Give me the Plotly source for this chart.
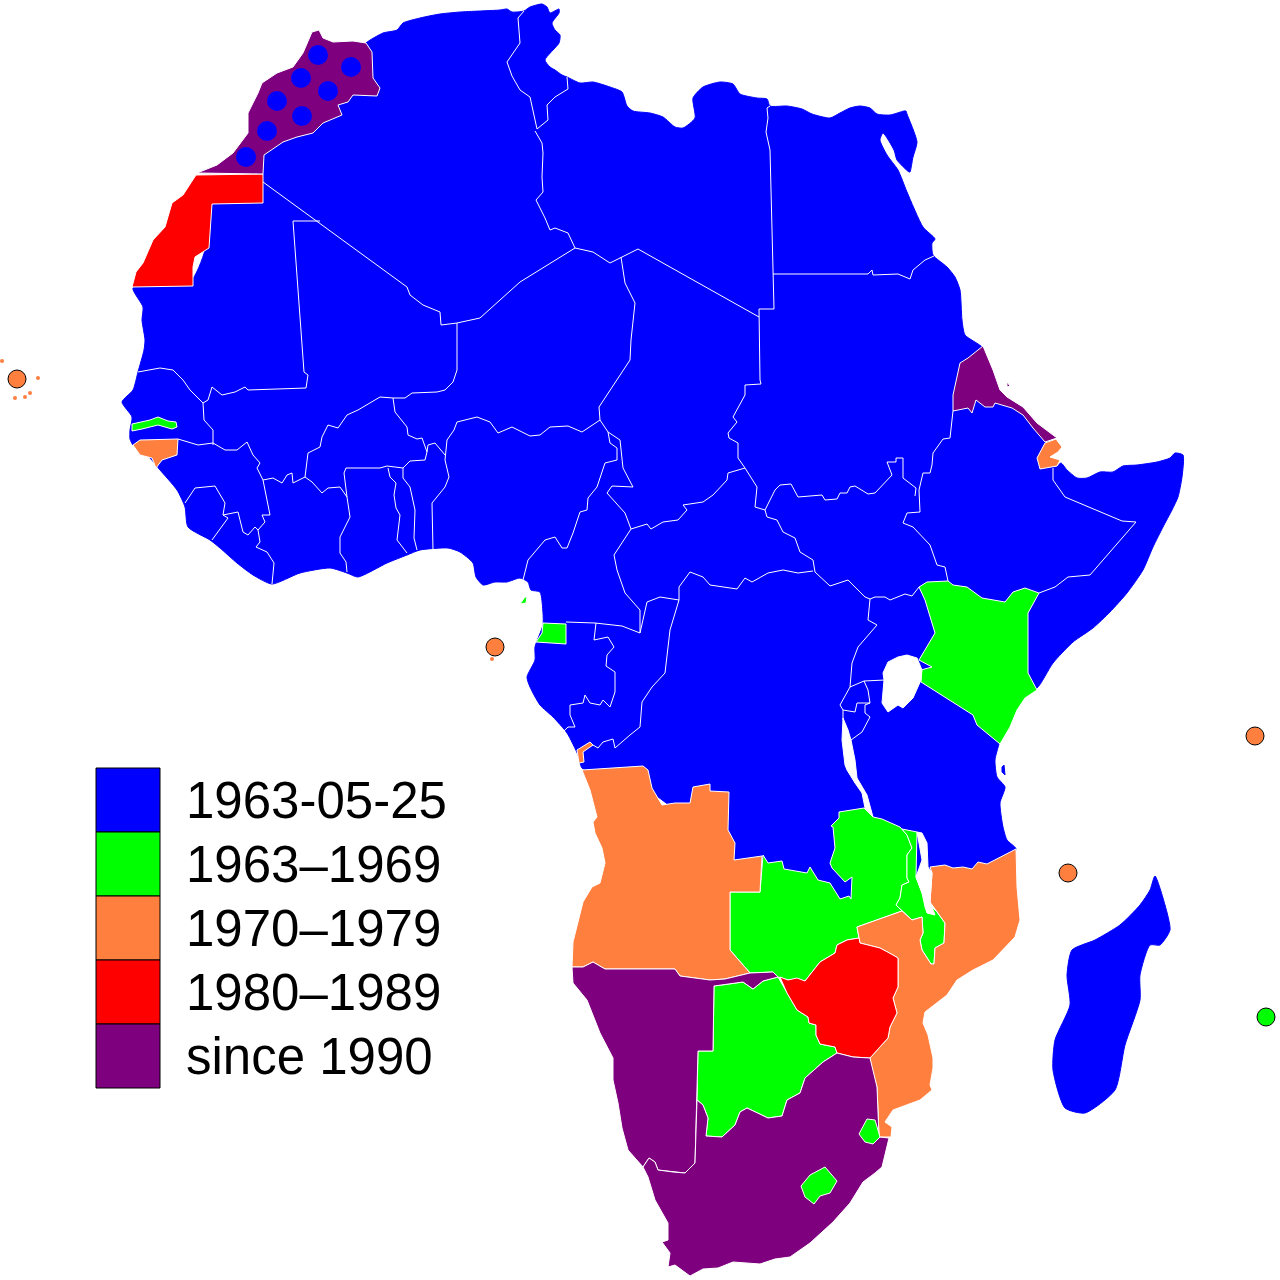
import plotly.graph_objects as go

# colours of the membership periods
BLUE = "#0000ff"
GREEN = "#00ff00"
ORANGE = "#ff7f3f"
RED = "#ff0000"
PURPLE = "#7f007f"

legend_labels = ["1963-05-25", "1963–1969", "1970–1979", "1980–1989", "since 1990"]
legend_colours = [BLUE, GREEN, ORANGE, RED, PURPLE]

# outlines, in picture pixels
mainland = [(366,43),(383,33),(397,30),(403,23),(420,18),(440,14),(460,12),(500,10),(507,9),(512,12),(524,11),(530,7),(542,4),(547,7),(550,13),(559,9),(559,13),(552,23),(555,30),(560,35),(559,43),(545,60),(550,67),(555,70),(562,75),(567,77),(580,83),(593,82),(610,87),(622,92),(627,106),(633,111),(650,113),(663,117),(675,127),(683,128),(695,118),(693,98),(703,87),(720,82),(733,84),(740,94),(757,98),(767,99),(770,106),(787,106),(802,109),(812,114),(830,118),(840,113),(850,108),(860,106),(870,108),(877,114),(890,115),(904,111),(906,111),(907,114),(917,142),(913,157),(910,172),(909,172),(897,160),(894,150),(883,133),(880,140),(887,155),(898,170),(907,192),(923,227),(935,239),(932,243),(933,255),(947,267),(955,277),(960,290),(962,320),(965,335),(983,348),(988,370),(996,392),(1005,400),(1020,410),(1034,424),(1050,440),(1045,450),(1045,464),(1056,467),(1061,463),(1067,470),(1077,478),(1087,478),(1100,472),(1113,472),(1123,466),(1137,465),(1157,462),(1170,458),(1175,453),(1183,455),(1182,477),(1178,497),(1172,510),(1163,527),(1153,547),(1143,570),(1127,593),(1110,612),(1093,628),(1073,642),(1053,663),(1037,688),(1025,690),(1015,705),(1005,722),(999,744),(995,760),(997,777),(1005,787),(1000,803),(1003,827),(1007,840),(1016,849),(1000,870),(935,880),(900,870),(860,905),(790,895),(755,880),(700,830),(640,785),(600,775),(582,768),(578,755),(567,733),(553,717),(540,705),(530,687),(527,677),(535,660),(535,647),(543,625),(543,613),(540,592),(531,590),(528,582),(520,578),(507,582),(495,582),(483,585),(476,577),(473,563),(460,552),(448,548),(420,550),(407,555),(387,563),(358,577),(347,573),(330,568),(300,573),(272,584),(253,575),(237,563),(220,548),(210,540),(188,527),(185,507),(177,490),(160,470),(150,458),(133,445),(130,439),(130,430),(132,417),(122,402),(133,390),(138,372),(144,350),(145,340),(142,320),(143,307),(133,288),(190,282),(205,250),(208,205),(258,198),(258,176),(255,155),(295,125),(335,100),(362,85),(362,50)]
madagascar = [(1155,876),(1165,905),(1170,930),(1160,945),(1150,945),(1140,975),(1140,1000),(1125,1045),(1115,1090),(1085,1113),(1065,1108),(1053,1070),(1055,1040),(1070,1005),(1067,975),(1072,950),(1095,940),(1120,925),(1140,905),(1150,890)]
zanzibar = [(1004,765),(1005,775),(1002,772),(1002,767)]
morocco = [(197,173),(217,165),(233,153),(248,133),(248,113),(258,93),(262,83),(277,73),(293,67),(303,53),(312,32),(319,30),(323,38),(333,42),(353,41),(366,43),(372,52),(373,78),(380,88),(377,96),(353,95),(348,102),(338,105),(342,115),(323,123),(313,133),(297,137),(283,142),(264,155),(263,174)]
western_sahara = [(132,287),(136,272),(143,263),(153,240),(165,227),(172,203),(183,195),(196,175),(263,174),(263,203),(212,204),(209,248),(195,257),(193,267),(193,286)]
gambia = [(132,424),(150,420),(158,417),(168,421),(176,422),(177,427),(172,429),(158,425),(142,429),(132,431)]
guinea_bissau = [(133,445),(140,440),(178,439),(177,455),(162,460),(156,468),(152,458),(140,455)]
eq_guinea = [(536,642),(566,644),(566,624),(543,623),(542,633)]
bioko = [(520,604),(525,597),(527,597),(526,603)]
eritrea = [(953,411),(968,408),(972,413),(976,400),(985,407),(993,407),(995,403),(1012,408),(1023,415),(1033,428),(1045,442),(1057,438),(1037,423),(1023,407),(1007,397),(1000,390),(993,370),(983,346),(968,358),(960,363),(953,395)]
dahlak = [(1007,382),(1010,386),(1007,387)]
djibouti = [(1045,443),(1056,439),(1062,447),(1058,452),(1050,457),(1060,460),(1057,466),(1040,469),(1037,458)]
kenya = [(919,587),(927,582),(948,581),(953,585),(967,587),(982,598),(1005,602),(1013,592),(1025,588),(1039,593),(1028,613),(1028,673),(1037,690),(1025,698),(1017,710),(1010,727),(1000,744),(977,725),(973,715),(921,682),(921,670),(932,667),(919,660),(935,633),(925,600)]
cabinda = [(577,750),(590,742),(593,745),(583,752),(584,762),(579,763)]
angola = [(582,770),(643,766),(648,770),(652,788),(662,805),(675,803),(690,803),(693,787),(710,784),(710,791),(729,792),(728,830),(735,843),(734,860),(762,856),(760,892),(730,892),(730,950),(750,973),(725,979),(710,980),(680,976),(675,969),(605,969),(593,962),(583,967),(572,967),(573,942),(583,902),(592,887),(600,883),(605,863),(602,848),(595,833),(593,822),(597,817),(590,790)]
zambia = [(839,812),(864,808),(873,817),(882,819),(900,827),(907,835),(912,848),(907,855),(907,878),(909,882),(902,885),(900,898),(896,905),(902,911),(857,927),(859,938),(847,940),(837,945),(835,953),(820,962),(805,981),(797,980),(788,980),(778,977),(773,972),(750,973),(730,950),(730,892),(760,892),(763,855),(768,863),(782,861),(784,869),(807,873),(810,867),(818,880),(830,883),(840,899),(849,896),(851,899),(852,877),(845,882),(832,868),(830,863),(835,848),(833,827),(831,826),(839,818)]
malawi = [(907,835),(902,829),(917,832),(916,877),(922,893),(928,903),(937,912),(945,923),(944,943),(935,948),(934,964),(931,964),(922,950),(920,940),(923,933),(922,917),(912,920),(902,911),(896,905),(900,898),(902,885),(909,882),(907,878),(907,855),(912,848)]
mozambique = [(930,867),(945,865),(953,868),(963,867),(972,869),(978,862),(987,864),(1016,849),(1017,887),(1020,920),(1015,937),(993,960),(973,970),(957,980),(947,995),(925,1012),(923,1023),(928,1035),(933,1058),(933,1068),(930,1085),(932,1090),(920,1100),(893,1110),(885,1122),(892,1127),(891,1137),(879,1137),(878,1110),(877,1087),(872,1070),(870,1058),(888,1038),(890,1027),(897,1013),(893,998),(898,987),(898,958),(893,955),(880,948),(860,943),(857,927),(902,911),(912,920),(922,917),(923,933),(920,940),(922,950),(931,964),(934,964),(935,948),(944,943),(945,923),(937,912),(930,902),(932,873)]
zimbabwe = [(847,940),(859,938),(860,943),(880,948),(893,955),(898,958),(898,987),(893,998),(897,1013),(890,1027),(888,1038),(870,1058),(853,1057),(837,1053),(835,1047),(820,1044),(816,1035),(816,1025),(809,1023),(808,1017),(797,1010),(787,993),(780,977),(788,980),(797,978),(805,981),(820,962),(835,953),(837,945)]
botswana = [(714,986),(743,982),(753,989),(763,981),(778,977),(787,993),(797,1010),(808,1017),(809,1023),(816,1025),(816,1035),(820,1044),(835,1047),(837,1053),(823,1062),(805,1078),(800,1093),(787,1100),(782,1116),(768,1118),(747,1108),(740,1112),(735,1125),(722,1137),(706,1136),(708,1118),(703,1105),(697,1100),(698,1051),(713,1051)]
namibia = [(572,967),(583,967),(593,962),(605,969),(675,969),(680,976),(710,980),(725,979),(750,973),(773,972),(778,977),(763,981),(753,989),(743,982),(714,986),(713,1051),(698,1051),(697,1100),(695,1163),(685,1173),(673,1172),(658,1170),(655,1162),(649,1158),(643,1167),(628,1150),(622,1128),(618,1103),(613,1080),(613,1058),(600,1033),(587,1000),(573,983)]
south_africa = [(643,1167),(649,1158),(655,1162),(658,1170),(673,1172),(685,1173),(695,1163),(697,1100),(703,1105),(708,1118),(706,1136),(722,1137),(735,1125),(740,1112),(747,1108),(768,1118),(782,1116),(787,1100),(800,1093),(805,1078),(823,1062),(837,1053),(853,1057),(870,1058),(877,1087),(878,1110),(879,1137),(889,1138),(882,1167),(875,1173),(863,1182),(850,1203),(833,1222),(810,1243),(790,1257),(775,1259),(760,1264),(733,1262),(718,1268),(703,1269),(690,1276),(675,1265),(668,1267),(670,1253),(662,1242),(668,1240),(668,1223),(655,1200),(648,1177)]
lesotho = [(825,1167),(837,1181),(830,1193),(820,1196),(814,1204),(805,1197),(801,1186),(810,1175)]
swaziland = [(867,1119),(875,1120),(880,1137),(873,1144),(865,1142),(859,1134)]

lake_victoria = [(883,673),(888,662),(898,657),(907,655),(917,658),(922,670),(921,680),(913,698),(903,708),(898,705),(888,712),(882,703),(884,680)]
lake_tanganyika = [(843,718),(842,740),(845,765),(847,770),(855,783),(862,793),(865,808),(873,817),(867,795),(857,778),(855,760),(851,740),(848,730)]
lake_malawi = [(917,832),(922,833),(927,843),(928,867),(932,873),(930,902),(935,915),(927,913),(925,907),(922,893),(916,877),(922,860)]

# internal borders of the blue area
borders = [
    [(263,182),(407,287),(410,295),(423,305),(440,312),(441,325),(457,323),(480,318),(500,300),(520,282),(575,248)],
    [(575,248),(568,233),(555,228),(550,230),(545,218),(536,200),(543,192),(542,177),(543,153),(542,143),(535,131)],
    [(537,129),(548,120),(547,105),(555,97),(568,89),(567,77)],
    [(524,11),(518,18),(520,43),(507,62),(512,76),(520,90),(530,97),(537,129)],
    [(575,248),(593,252),(610,263),(638,249),(759,317)],
    [(760,380),(759,309),(774,309),(773,274),(770,150),(766,132),(768,118),(767,108),(770,106)],
    [(773,274),(868,274),(872,270),(873,275),(898,274),(910,279),(913,270),(925,260),(934,256)],
    [(621,257),(625,283),(635,303),(631,340),(630,360),(617,380),(599,407),(600,420)],
    [(293,221),(320,221)],
    [(293,221),(302,340),(304,372),(308,375),(306,388),(248,390),(245,387),(235,392),(222,395),(212,387),(208,400),(203,403)],
    [(138,372),(160,368),(173,370),(183,380),(190,390),(203,403),(204,420),(213,430),(213,445)],
    [(178,439),(198,445),(213,443),(225,450),(237,450),(247,442),(253,455),(260,463),(257,468),(263,480),(273,478),(282,483),(287,475),(292,473),(293,483),(305,477)],
    [(305,477),(308,453),(320,447),(322,437),(328,425),(338,428),(347,415),(358,410),(380,397),(393,398),(405,398),(412,393),(437,392),(445,390),(453,382),(457,370),(457,323)],
    [(393,398),(395,412),(407,427),(408,435),(417,439),(422,438),(427,452),(425,460),(410,461),(403,468),(387,466),(380,468),(346,468),(344,473),(347,497)],
    [(305,477),(312,482),(322,493),(328,488),(340,487),(347,497),(350,517),(340,537),(340,553),(346,562),(347,572)],
    [(388,468),(390,477),(396,483),(394,495),(396,508),(400,515),(397,540),(407,553)],
    [(403,468),(403,478),(410,487),(415,510),(414,538),(417,550)],
    [(433,550),(432,503),(445,487),(449,477),(445,460),(447,440),(454,430),(457,422),(477,417),(490,422),(498,433),(512,427),(530,436),(540,435),(550,427),(568,426),(582,432),(600,420)],
    [(427,452),(428,445),(435,443),(445,455)],
    [(600,420),(608,432),(610,443),(617,448),(617,460),(605,463),(597,487),(588,498),(587,510),(580,512),(573,533),(567,548),(562,548),(555,537),(545,540),(528,560),(523,580)],
    [(608,432),(620,440),(623,468),(633,487),(612,486),(607,493),(625,513),(631,529)],
    [(631,529),(647,524),(651,529),(663,522),(678,520),(687,510),(683,505),(703,502),(713,495),(727,480),(728,473),(745,468)],
    [(745,468),(738,458),(738,443),(729,438),(728,433),(737,422),(733,417),(745,395),(745,385),(761,384),(760,380)],
    [(745,468),(757,487),(755,507),(765,510),(767,517),(777,520),(783,532),(795,538),(800,552),(813,560),(815,572)],
    [(765,510),(775,490),(780,485),(791,484),(798,497),(822,495),(825,500),(837,499),(840,493),(847,493),(850,487),(855,486),(868,494),(875,493),(892,475),(887,462),(896,462),(896,458),(903,458),(903,478),(916,488),(915,496)],
    [(919,490),(923,473),(930,473),(932,465),(933,453),(943,439),(950,438),(953,411)],
    [(1053,468),(1053,480),(1065,497),(1122,521),(1136,522),(1090,575),(1068,577),(1055,587),(1039,593)],
    [(919,490),(920,512),(907,513),(903,523),(913,527),(930,545),(937,565),(945,567),(948,581)],
    [(815,572),(830,586),(848,580),(865,597),(870,599),(875,597),(885,597),(890,600),(905,594),(912,596),(919,587)],
    [(870,599),(868,620),(877,625),(858,647),(852,663),(850,687),(840,705),(843,710),(843,720)],
    [(850,687),(864,681),(885,680)],
    [(864,681),(868,690),(870,703),(857,703),(855,712),(843,710)],
    [(870,703),(865,705),(865,713),(870,717),(862,732),(851,740)],
    [(566,622),(595,623),(622,626),(640,633)],
    [(596,623),(594,640),(608,637),(614,647),(607,655),(606,666),(615,672),(615,692),(610,707),(603,700),(600,705),(590,703),(585,695),(583,703),(570,705),(570,715),(575,727),(568,727),(563,732)],
    [(640,633),(640,610),(625,593),(617,570),(614,555),(631,529)],
    [(640,633),(647,602),(660,597),(679,600),(679,587),(690,572),(703,577),(710,585),(737,589),(745,578),(752,582),(768,573),(783,570),(798,573),(813,571)],
    [(679,600),(670,630),(665,673),(652,687),(642,702),(640,727),(630,735),(615,748),(613,739),(603,742),(598,748),(593,745)],
    [(185,503),(195,488),(215,486),(225,503),(223,515),(238,512),(243,532),(248,535),(255,527),(258,530)],
    [(223,515),(228,518),(212,540)],
    [(263,480),(268,503),(270,515),(262,515),(265,522),(258,530),(260,542),(256,547),(267,552),(274,563),(272,584)],
]

# western Sahara counts as part of Morocco's 1963 membership: blue dots over the purple
morocco_dots_x = [318, 351, 301, 328, 277, 302, 267, 246]
morocco_dots_y = [55, 67, 78, 91, 101, 116, 131, 157]

# island states shown as circles
island_x = [17, 495, 1255, 1068, 1266]
island_y = [379, 647, 736, 873, 1017]
island_colours = [ORANGE, ORANGE, ORANGE, ORANGE, GREEN]
cape_verde_x = [2, 38, 15, 25, 30, 492]
cape_verde_y = [361, 378, 398, 397, 393, 659]

fig = go.Figure()


def add_area(points, colour, line="white", shape="linear"):
    fig.add_trace(go.Scatter(
        x=[p[0] for p in points] + [points[0][0]],
        y=[p[1] for p in points] + [points[0][1]],
        mode="lines",
        fill="toself",
        fillcolor=colour,
        line=dict(color=line, width=1, shape=shape, smoothing=0.6),
        hoverinfo="skip",
    ))


add_area(mainland, BLUE, BLUE, "spline")
add_area(madagascar, BLUE, BLUE, "spline")
add_area(zanzibar, BLUE, BLUE)

for line in borders:
    fig.add_trace(go.Scatter(
        x=[p[0] for p in line],
        y=[p[1] for p in line],
        mode="lines",
        line=dict(color="white", width=1),
        hoverinfo="skip",
    ))

for shape in [gambia, eq_guinea, bioko, kenya, zambia, malawi, botswana]:
    add_area(shape, GREEN)
for shape in [guinea_bissau, djibouti, cabinda, angola, mozambique]:
    add_area(shape, ORANGE)
for shape in [western_sahara, zimbabwe]:
    add_area(shape, RED)
for shape in [morocco, eritrea, dahlak, namibia, south_africa]:
    add_area(shape, PURPLE)
# the two small states sit inside South Africa, so they go on top of it
add_area(lesotho, GREEN)
add_area(swaziland, GREEN)

for lake in [lake_victoria, lake_tanganyika, lake_malawi]:
    add_area(lake, "white")

fig.add_trace(go.Scatter(
    x=morocco_dots_x, y=morocco_dots_y, mode="markers",
    marker=dict(color=BLUE, size=20), hoverinfo="skip",
))
fig.add_trace(go.Scatter(
    x=cape_verde_x, y=cape_verde_y, mode="markers",
    marker=dict(color=ORANGE, size=4), hoverinfo="skip",
))
fig.add_trace(go.Scatter(
    x=island_x, y=island_y, mode="markers",
    marker=dict(color=island_colours, size=18, line=dict(color="black", width=1)),
    hoverinfo="skip",
))

# legend: five stacked swatches with the labels beside them
for i, (label, colour) in enumerate(zip(legend_labels, legend_colours)):
    fig.add_shape(
        type="rect", x0=96, x1=160, y0=768 + 64 * i, y1=832 + 64 * i,
        fillcolor=colour, line=dict(color="black", width=1),
    )
    fig.add_annotation(
        x=184, y=800 + 64 * i, text=label, showarrow=False,
        xanchor="left", yanchor="middle",
        font=dict(family="Liberation Sans", size=51, color="black"),
    )

fig.update_xaxes(range=[0, 1280], visible=False)
fig.update_yaxes(range=[1280, 0], visible=False)
fig.update_layout(
    width=1280,
    height=1280,
    margin=dict(l=0, r=0, t=0, b=0),
    showlegend=False,
    plot_bgcolor="white",
    paper_bgcolor="white",
)

# the page's default body margin would push the map 8px down and right
fig.write_html(
    "out.html",
    config={"displayModeBar": False},
    post_script="document.body.style.margin = '0';",
)
